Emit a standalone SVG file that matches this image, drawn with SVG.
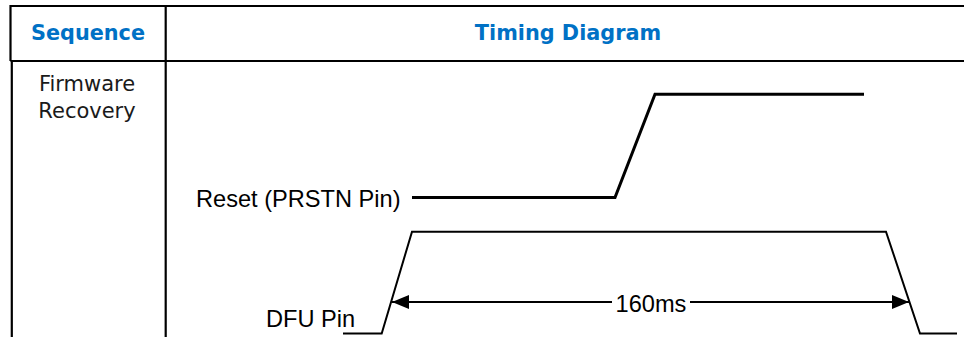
<svg xmlns="http://www.w3.org/2000/svg" width="964" height="337" viewBox="0 0 964 337">
<style>
.hdr{font-family:"DejaVu Sans",Verdana,sans-serif;font-weight:bold;font-size:20.8px;fill:#0071c5;text-anchor:middle}
.cell{font-family:"DejaVu Sans",Verdana,sans-serif;font-size:21px;fill:#1a1a1a;text-anchor:middle}
.lbl{font-family:"Liberation Sans",Arial,sans-serif;font-size:23.6px;fill:#000}
.grid{stroke:#000;stroke-width:2.2;fill:none}
.sig{stroke:#000;fill:none;stroke-linejoin:miter}
</style>
<defs>
<marker id="ah" markerWidth="17" markerHeight="14" refX="17" refY="7" orient="auto-start-reverse" markerUnits="userSpaceOnUse">
<path d="M0,0 L17,7 L0,14 Z" fill="#000"/>
</marker>
</defs>
<g id="table">
<path class="grid" d="M10.5,61 V6 H964"/>
<path class="grid" d="M10.5,61 H964"/>
<path class="grid" d="M11.8,61 V337"/>
<path class="grid" d="M165.7,6 V337"/>
</g>
<g id="header-sequence"><text class="hdr" x="88" y="39.5">Sequence</text></g>
<g id="header-timing"><text class="hdr" x="568" y="39.5">Timing Diagram</text></g>
<g id="cell-sequence"><text class="cell" x="87" y="90.8">Firmware</text><text class="cell" x="87" y="118">Recovery</text></g>
<g id="reset-signal">
<text class="lbl" x="196" y="207.3">Reset (PRSTN Pin)</text>
<path class="sig" stroke-width="3" d="M412,197.5 H615 L655,94.3 H864"/>
</g>
<g id="dfu-signal">
<text class="lbl" x="266" y="327">DFU Pin</text>
<path class="sig" stroke-width="2" d="M343,333.5 H381.7 L412,231.7 H886 L920,333.5 H957"/>
</g>
<g id="connectors">
<path class="sig" stroke-width="2" d="M612,302 H392" marker-end="url(#ah)"/>
<path class="sig" stroke-width="2" d="M690,302 H909" marker-end="url(#ah)"/>
<text class="lbl" x="651" y="311.5" text-anchor="middle" font-size="25.5">160ms</text>
</g>
</svg>
